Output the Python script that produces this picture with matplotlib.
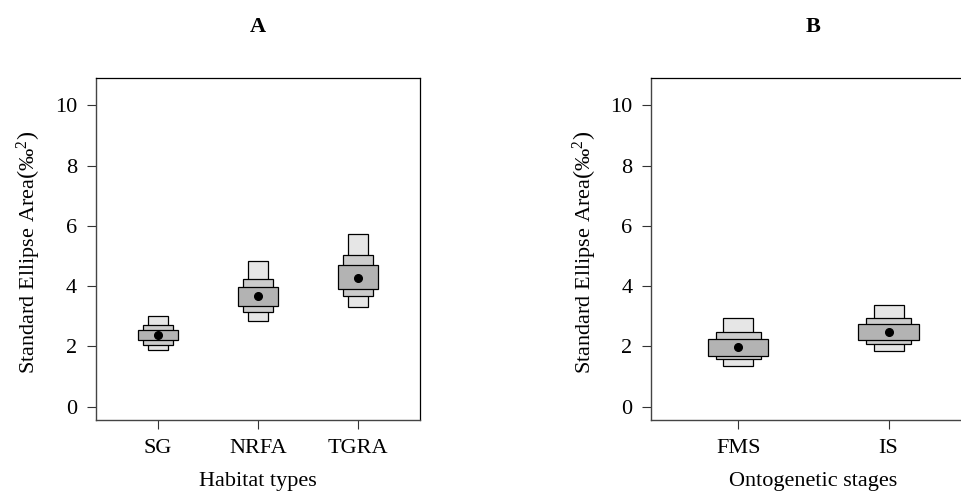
import matplotlib
matplotlib.use("Agg")
import matplotlib.pyplot as plt
from matplotlib.patches import Rectangle

plt.rcParams['font.family'] = ['Liberation Serif', 'DejaVu Serif']
plt.rcParams['mathtext.fontset'] = 'custom'
plt.rcParams['mathtext.rm'] = 'Liberation Serif'
plt.rcParams['mathtext.it'] = 'Liberation Serif:italic'
plt.rcParams['mathtext.bf'] = 'Liberation Serif:bold'

# ---- Data: panel A (habitat types) ----
cats_a = ["SG", "NRFA", "TGRA"]
mean_a = [2.37, 3.67, 4.27]
lo95_a = [1.88, 2.84, 3.30]
hi95_a = [3.02, 4.82, 5.72]
lo75_a = [2.06, 3.13, 3.68]
hi75_a = [2.72, 4.25, 5.04]
lo50_a = [2.20, 3.34, 3.92]
hi50_a = [2.56, 3.98, 4.70]

# ---- Data: panel B (ontogenetic stages) ----
cats_b = ["FMS", "IS"]
mean_b = [1.98, 2.48]
lo95_b = [1.35, 1.85]
hi95_b = [2.96, 3.36]
lo75_b = [1.58, 2.07]
hi75_b = [2.47, 2.96]
lo50_b = [1.69, 2.22]
hi50_b = [2.26, 2.75]

yticks = [0, 2, 4, 6, 8, 10]
titles = ["A", "B"]
xlabels = ["Habitat types", "Ontogenetic stages"]
ylabel = r"Standard Ellipse Area$\left(\mathrm{‰}^{2}_{\,}\right)$"

FS = 16
col95, col75, col50 = "#e6e6e6", "#cccccc", "#b3b3b3"
w95, w75, w50 = 0.20, 0.30, 0.40

fig = plt.figure(figsize=(9.61, 4.93), dpi=100)
ax_a = fig.add_axes([0.0996, 0.1481, 0.3378, 0.6931])
ax_b = fig.add_axes([0.6777, 0.1481, 0.3375, 0.6931])


def draw_panel(ax, cats, mean, lo95, hi95, lo75, hi75, lo50, hi50, xlim, title, xlabel):
    xs = list(range(1, len(cats) + 1))
    for i, x in enumerate(xs):
        for lo, hi, w, c in ((lo95[i], hi95[i], w95, col95),
                             (lo75[i], hi75[i], w75, col75),
                             (lo50[i], hi50[i], w50, col50)):
            ax.add_patch(Rectangle((x - w / 2, lo), w, hi - lo, facecolor=c,
                                   edgecolor="black", linewidth=0.9, zorder=2))
    ax.plot(xs, mean, "o", color="black", markersize=5.5, zorder=3)
    ax.set_xlim(*xlim)
    ax.set_ylim(-0.44, 10.9)
    ax.set_xticks(xs)
    ax.set_xticklabels(cats)
    ax.set_yticks(yticks)
    ax.set_yticklabels([str(v) for v in yticks])
    ax.tick_params(axis="both", direction="out", length=6.5, width=0.8,
                   labelsize=FS, color="#333333")
    ax.tick_params(axis="y", pad=7)
    ax.tick_params(axis="x", pad=7)
    for s in ("top", "right"):
        ax.spines[s].set_color("black")
        ax.spines[s].set_linewidth(0.9)
    for s in ("left", "bottom"):
        ax.spines[s].set_color("#444444")
        ax.spines[s].set_linewidth(1.0)
    ax.set_xlabel(xlabel, fontsize=FS, va="center")
    ax.set_ylabel(ylabel, fontsize=FS, va="center")
    ax.xaxis.set_label_coords(0.5, -0.1806)
    ax.yaxis.set_label_coords(-0.2086, 0.49)
    bb = ax.get_position()
    fig.text((bb.x0 + bb.x1) / 2, 0.945, title, fontsize=FS, fontweight="bold",
             ha="center", va="center")


draw_panel(ax_a, cats_a, mean_a, lo95_a, hi95_a, lo75_a, hi75_a, lo50_a, hi50_a,
           (0.38, 3.62), titles[0], xlabels[0])
draw_panel(ax_b, cats_b, mean_b, lo95_b, hi95_b, lo75_b, hi75_b, lo50_b, hi50_b,
           (0.42, 2.58), titles[1], xlabels[1])

fig.savefig("out.png", dpi=100)
